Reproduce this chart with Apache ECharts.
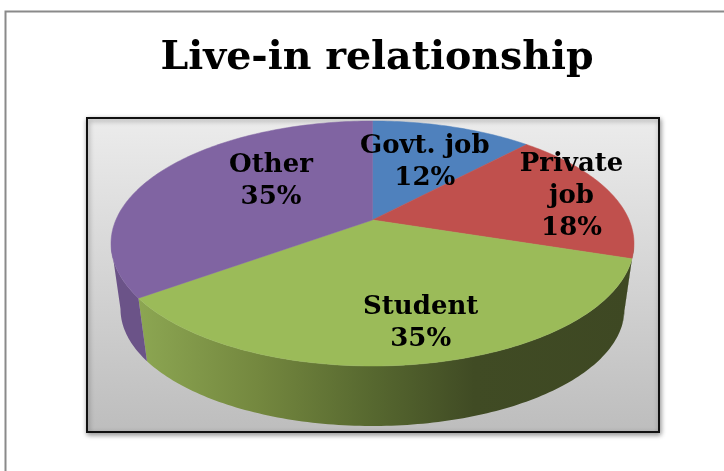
<!DOCTYPE html>
<html>
<head>
<meta charset="utf-8">
<style>html,body{margin:0;padding:0;background:#fff}#chart{width:724px;height:471px}</style>
<script src="https://cdn.jsdelivr.net/npm/echarts@6/dist/echarts.min.js"></script>
</head>
<body>
<div id="chart"></div>
<script>
// Slices, clockwise from twelve o'clock
const categories = ['Govt. job', 'Private\njob', 'Student', 'Other'];
const shares = [12, 18, 35, 35];
const topColors = ['#4f81bd', '#c0504d', '#9bbb59', '#8064a2'];

// Perspective disc: top face and base ellipses, and how far the apex sits above the ellipse centre
const topFace = { cx: 372.5, cy: 243.5, rx: 261.5, ry: 122.5 };
const baseFace = { cx: 372.5, cy: 309, rx: 252, ry: 117 };
const tilt = 0.192;

// The wall shows only on the near side, between the two widest points of the disc
const wallStart = Math.acos(-tilt) / (2 * Math.PI);
const wallEnd = 1 - wallStart;

// Wall fills
const wallFills = [
  '#3c5f88',
  '#3e4823',
  new echarts.graphic.LinearGradient(0, 0, 1, 0, [
    { offset: 0, color: '#8ca652' },
    { offset: 0.24, color: '#74883f' },
    { offset: 0.48, color: '#56672f' },
    { offset: 0.68, color: '#404b24' },
    { offset: 1, color: '#3e4823' }
  ]),
  '#6b5388'
];

// Label placement: radius within the disc and a pixel nudge for each slice
const labelRadius = [0.72, 0.72, 0.62, 0.62];
const labelNudge = [[-8, 12], [26, -3], [20, 21], [33, -7]];

function project(face, turn, radius) {
  const a = turn * 2 * Math.PI;
  const u = radius * Math.sin(a);
  const v = radius * Math.cos(a);
  const d = 1 + tilt * v;
  const X = (u * Math.sqrt(1 - tilt * tilt)) / d;
  const Y = (v + tilt) / d;
  return [face.cx + face.rx * X, face.cy - face.ry * Y];
}

function arc(face, from, to) {
  const steps = Math.max(2, Math.ceil(Math.abs(to - from) * 360));
  const pts = [];
  for (let i = 0; i <= steps; i++) {
    pts.push(project(face, from + ((to - from) * i) / steps, 1));
  }
  return pts;
}

const total = shares.reduce((s, v) => s + v, 0);
let running = 0;
const sliceData = shares.map((v, i) => {
  const row = [categories[i], v, running / total, (running + v) / total];
  running += v;
  return row;
});

function renderSlice(params, api) {
  const i = params.dataIndex;
  const from = api.value(2);
  const to = api.value(3);
  const rim = arc(topFace, from, to);
  const anchor = project(topFace, (from + to) / 2, labelRadius[i]);
  const children = [];
  const wallFrom = Math.max(from, wallStart);
  const wallTo = Math.min(to, wallEnd);
  if (wallTo > wallFrom) {
    children.push({
      type: 'polygon',
      z2: 1,
      shape: { points: arc(topFace, wallFrom, wallTo).concat(arc(baseFace, wallTo, wallFrom)) },
      style: { fill: wallFills[i] }
    });
  }
  children.push(
    {
      type: 'polygon',
      z2: 2,
      shape: { points: rim.concat([project(topFace, 0, 0)]) },
      style: { fill: topColors[i], stroke: topColors[i], lineWidth: 0.5 }
    },
    {
      type: 'text',
      z2: 3,
      x: anchor[0] + labelNudge[i][0],
      y: anchor[1] + labelNudge[i][1],
      style: {
        text: categories[i] + '\n' + shares[i] + '%',
        fill: '#000',
        font: 'bold 26px "DejaVu Serif"',
        lineHeight: 32,
        align: 'center',
        verticalAlign: 'middle'
      }
    }
  );
  return { type: 'group', children };
}

const chart = echarts.init(document.getElementById('chart'), null, { renderer: 'canvas' });
chart.setOption({
  animation: false,
  backgroundColor: '#fff',
  title: {
    text: 'Live-in relationship',
    left: 372,
    top: 34,
    textAlign: 'center',
    textStyle: { fontFamily: 'DejaVu Serif', fontWeight: 'bold', fontSize: 39.5, color: '#000' }
  },
  graphic: [
    {
      type: 'polyline',
      silent: true,
      z: -2,
      shape: { points: [[5.5, 471], [5.5, 11.5], [724, 11.5]] },
      style: { stroke: '#8a8a8a', lineWidth: 2, fill: null }
    },
    {
      type: 'rect',
      silent: true,
      z: -1,
      shape: { x: 87, y: 118, width: 572, height: 314 },
      style: {
        fill: new echarts.graphic.LinearGradient(0, 0, 0, 1, [
          { offset: 0, color: '#ececec' },
          { offset: 1, color: '#bdbdbd' }
        ]),
        stroke: '#111',
        lineWidth: 2,
        shadowBlur: 5,
        shadowColor: 'rgba(0,0,0,0.4)',
        shadowOffsetX: 1,
        shadowOffsetY: 2
      }
    }
  ],
  series: [
    {
      type: 'custom',
      coordinateSystem: 'none',
      data: sliceData,
      renderItem: renderSlice,
      silent: true
    }
  ]
});
</script>
</body>
</html>
